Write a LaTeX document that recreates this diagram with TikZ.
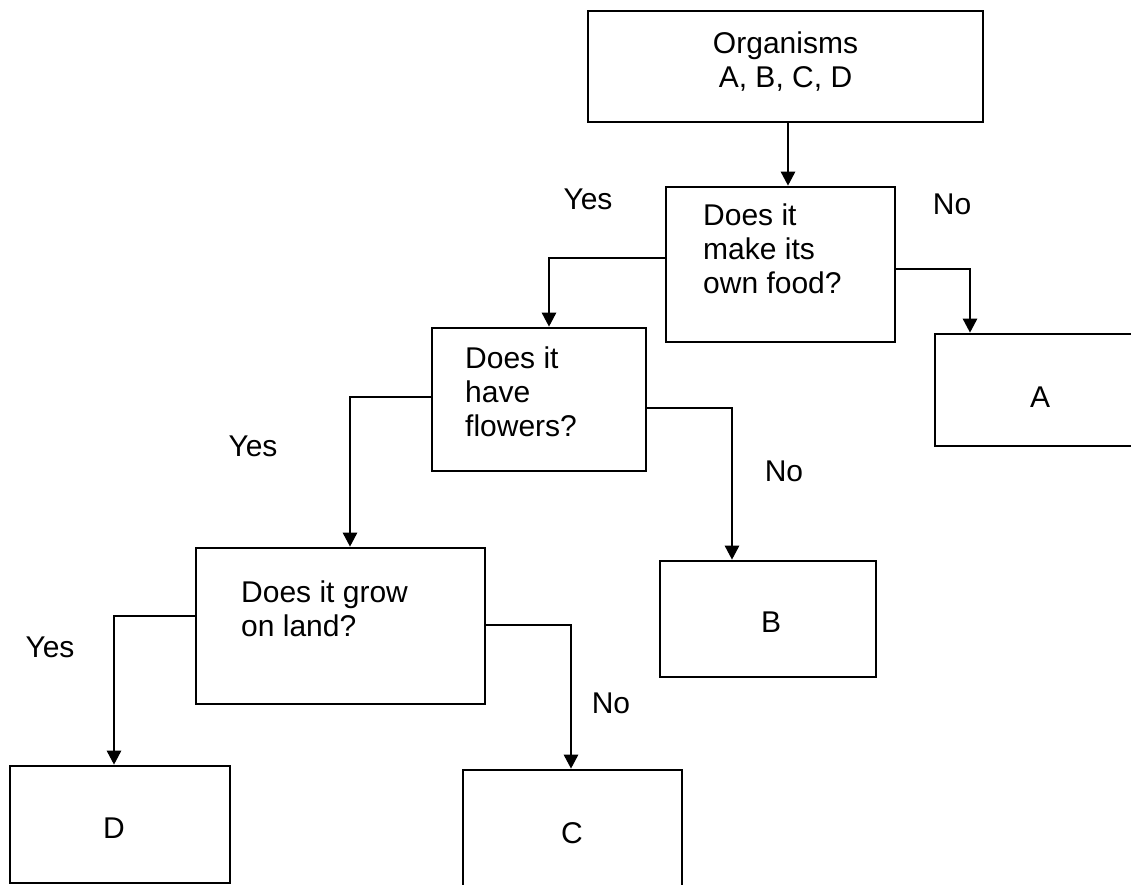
\documentclass[tikz,border=0pt]{standalone}
\usepackage{fontspec}
\setmainfont{Liberation Sans}
\usetikzlibrary{arrows.meta}
\begin{document}
\begin{tikzpicture}[x=1pt,y=-1pt,
  box/.style={draw, line width=2.6pt, inner sep=0pt},
  txt/.style={inner sep=0pt, font=\fontsize{30}{34}\selectfont, align=left},
  lbl/.style={inner sep=0pt, font=\fontsize{30}{34}\selectfont},
  arr/.style={line width=2.6pt, -{Triangle[width=14pt,length=14pt]}}]
\useasboundingbox (0,0) rectangle (1131,884);
\fill[white] (0,0) rectangle (1131,884);
\clip (0,0) rectangle (1131,884);

% boxes
\node[box, minimum width=395pt, minimum height=111pt] (org) at (785.5,66.5) {};
\node[txt, align=center, anchor=north] (orgt) at (785.5,32) {Organisms\\A, B, C, D};

\node[box, minimum width=229pt, minimum height=155pt] (q1) at (780.5,264.5) {};
\node[txt, anchor=north west] (q1t) at (703,204) {Does it\\make its\\own food?};

\node[box, minimum width=210pt, minimum height=112pt] (A) at (1040,390) {};
\node[lbl] (At) at (1040,397) {A};

\node[box, minimum width=214pt, minimum height=143pt] (q2) at (539,399.5) {};
\node[txt, anchor=north west] (q2t) at (465,347) {Does it\\have\\flowers?};

\node[box, minimum width=216pt, minimum height=116pt] (B) at (768,619) {};
\node[lbl] (Bt) at (771,622) {B};

\node[box, minimum width=289pt, minimum height=156pt] (q3) at (340.5,626) {};
\node[txt, anchor=north west] (q3t) at (241,581) {Does it grow\\on land?};

\node[box, minimum width=220pt, minimum height=117pt] (D) at (120,824.5) {};
\node[lbl] (Dt) at (114,828) {D};

\node[box, minimum width=219pt, minimum height=126pt] (C) at (572.5,833) {};
\node[lbl] (Ct) at (572,833) {C};

% connectors
\draw[arr] ([xshift=2.5pt]org.south) -- ([xshift=2.5pt]org.south |- q1.north);
\draw[arr] ([yshift=6.5pt]q1.west) -| ([xshift=10pt]q2.north);
\draw[arr] ([yshift=-4.5pt]q1.east) -| ([xshift=-70pt]A.north);
\draw[arr] ([yshift=2.5pt]q2.west) -| ([xshift=9.5pt]q3.north);
\draw[arr] ([yshift=-8.5pt]q2.east) -| ([xshift=-36pt]B.north);
\draw[arr] ([yshift=10pt]q3.west) -| ([xshift=-6pt]D.north);
\draw[arr] ([yshift=1pt]q3.east) -| ([xshift=-1.5pt]C.north);

% labels
\node[lbl] (y1) at (588,199) {Yes};
\node[lbl] (n1) at (952,204) {No};
\node[lbl] (y2) at (253,446) {Yes};
\node[lbl] (n2) at (784,471) {No};
\node[lbl] (y3) at (50,647) {Yes};
\node[lbl] (n3) at (611,703) {No};
\end{tikzpicture}
\end{document}
